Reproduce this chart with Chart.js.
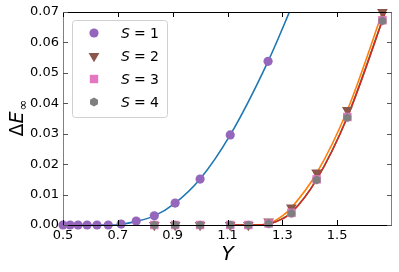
<!DOCTYPE html>
<html>
<head>
<meta charset="utf-8">
<script src="https://cdn.jsdelivr.net/npm/chart.js@4/dist/chart.umd.min.js"></script>
<style>
html, body { margin: 0; padding: 0; background: #fff; }
</style>
</head>
<body>
<canvas id="myChart" width="399" height="272"></canvas>
<script>
// tick labels
var xTicks = [0.5, 0.7, 0.9, 1.1, 1.3, 1.5]
var yTicks = [0, 0.01, 0.02, 0.03, 0.04, 0.05, 0.06, 0.07]

// S = 1 points
var s1X = [0.5, 0.526, 0.555, 0.588, 0.624, 0.665, 0.712, 0.767, 0.833, 0.909, 1.0, 1.11, 1.248]
var s1Y = [0, 0, 0, 0, 0, 0, 0.0003, 0.0013, 0.003, 0.0072, 0.0151, 0.0296, 0.0538]

// S = 2..4 points share the same x values
var sX = [0.833, 0.909, 1.0, 1.11, 1.176, 1.25, 1.333, 1.425, 1.537, 1.665]
var s2Y = [0, 0, 0, 0, 0, 0.0011, 0.0057, 0.0172, 0.0378, 0.0700]
var s3Y = [0, 0, 0, 0, 0, 0.0005, 0.0040, 0.0150, 0.0355, 0.0673]
var s4Y = [0, 0, 0, 0, 0, 0.0004, 0.0038, 0.0148, 0.0353, 0.0671]

// fitted curves
var fit1X = [0.5, 0.65, 0.7, 0.767, 0.833, 0.909, 1.0, 1.11, 1.248, 1.34]
var fit1Y = [0, 0, 0.0001, 0.0012, 0.003, 0.0072, 0.0151, 0.0296, 0.0538, 0.073]
var fit2X = [1.1, 1.2, 1.25, 1.3, 1.333, 1.425, 1.537, 1.68]
var fit2Y = [0, 0, 0.0005, 0.003, 0.0057, 0.0170, 0.0377, 0.0738]
var fit3X = [1.1, 1.2, 1.25, 1.3, 1.333, 1.425, 1.537, 1.68]
var fit3Y = [0, 0, 0.0003, 0.0021, 0.0041, 0.0150, 0.0355, 0.0712]
var fit4X = [1.1, 1.2, 1.25, 1.3, 1.333, 1.425, 1.537, 1.68]
var fit4Y = [0, 0, 0.0003, 0.002, 0.0040, 0.0149, 0.0354, 0.0710]

var legendLabels = ["1", "2", "3", "4"]

function pts(xs, ys) {
    var out = []
    for (var i = 0; i < xs.length; i++) out.push({x: xs[i], y: ys[i]})
    return out
}

function hexagon(r, color) {
    var c = document.createElement("canvas")
    var s = Math.ceil(r * 2) + 2
    c.width = s
    c.height = s
    var g = c.getContext("2d")
    g.beginPath()
    for (var i = 0; i < 6; i++) {
        var a = Math.PI / 2 + i * Math.PI / 3
        var px = s / 2 + r * Math.cos(a)
        var py = s / 2 + r * Math.sin(a)
        if (i == 0) g.moveTo(px, py); else g.lineTo(px, py)
    }
    g.closePath()
    g.fillStyle = color
    g.fill()
    return c
}

var hexImg = hexagon(4.6, "#7f7f7f")

var markerStyles = [
    {style: "circle", color: "#9467bd", radius: 4.6, rotation: 0},
    {style: "triangle", color: "#8c564b", radius: 6.2, rotation: 180},
    {style: "rect", color: "#e377c2", radius: 6, rotation: 0},
    {style: hexImg, color: "#7f7f7f", radius: 4.6, rotation: 0}
]

function markerSet(data, m, order) {
    return {
        type: "scatter",
        data: data,
        pointStyle: m.style,
        pointRadius: m.radius,
        pointRotation: m.rotation,
        backgroundColor: m.color,
        borderColor: m.color,
        borderWidth: 0,
        pointHoverRadius: m.radius,
        clip: false,
        order: order
    }
}

function fitSet(data, color, order) {
    return {
        type: "line",
        data: data,
        borderColor: color,
        borderWidth: 1.6,
        pointRadius: 0,
        fill: false,
        cubicInterpolationMode: "monotone",
        order: order
    }
}

var frame = {
    id: "frame",
    afterDraw: function (chart) {
        var ctx = chart.ctx
        var a = chart.chartArea
        var xs = chart.scales.x
        var ys = chart.scales.y
        ctx.save()
        ctx.lineWidth = 1
        // spines
        ctx.strokeStyle = "#000"
        ctx.beginPath()
        ctx.moveTo(a.left, a.top + 0.5); ctx.lineTo(a.right, a.top + 0.5)
        ctx.moveTo(a.left, a.bottom + 0.5); ctx.lineTo(a.right, a.bottom + 0.5)
        ctx.stroke()
        ctx.strokeStyle = "#808080"
        ctx.beginPath()
        ctx.moveTo(a.left + 0.5, a.top); ctx.lineTo(a.left + 0.5, a.bottom)
        ctx.moveTo(a.right - 0.5, a.top); ctx.lineTo(a.right - 0.5, a.bottom)
        ctx.stroke()
        // inward ticks
        ctx.strokeStyle = "#000"
        ctx.beginPath()
        xTicks.forEach(function (v) {
            var px = Math.round(xs.getPixelForValue(v)) + 0.5
            ctx.moveTo(px, a.bottom); ctx.lineTo(px, a.bottom - 5)
            ctx.moveTo(px, a.top); ctx.lineTo(px, a.top + 5)
        })
        ctx.stroke()
        ctx.strokeStyle = "#555"
        ctx.beginPath()
        yTicks.forEach(function (v) {
            var py = Math.round(ys.getPixelForValue(v)) + 0.5
            ctx.moveTo(a.left, py); ctx.lineTo(a.left + 5, py)
            ctx.moveTo(a.right, py); ctx.lineTo(a.right - 5, py)
        })
        ctx.stroke()

        // axis titles
        ctx.fillStyle = "#000"
        ctx.textBaseline = "alphabetic"
        ctx.font = "italic 20px 'DejaVu Sans'"
        var yw = ctx.measureText("Y").width
        ctx.fillText("Y", (a.left + a.right) / 2 - yw / 2, 260)

        ctx.save()
        ctx.translate(23, (a.top + a.bottom) / 2)
        ctx.rotate(-Math.PI / 2)
        ctx.font = "19px 'DejaVu Sans'"
        var w1 = ctx.measureText("\u0394").width
        ctx.font = "italic 19px 'DejaVu Sans'"
        var w2 = ctx.measureText("E").width
        ctx.font = "13px 'DejaVu Sans'"
        var w3 = ctx.measureText("\u221e").width
        var x0 = -(w1 + w2 + w3) / 2
        ctx.font = "19px 'DejaVu Sans'"
        ctx.fillText("\u0394", x0, 0)
        ctx.font = "italic 19px 'DejaVu Sans'"
        ctx.fillText("E", x0 + w1, 0)
        ctx.font = "13px 'DejaVu Sans'"
        ctx.fillText("\u221e", x0 + w1 + w2 + 1, 4)
        ctx.restore()

        // legend
        var lx = 72, ly = 20, lw = 95, lh = 97
        ctx.beginPath()
        ctx.roundRect(lx + 0.5, ly + 0.5, lw, lh, 3)
        ctx.fillStyle = "rgba(255,255,255,0.8)"
        ctx.fill()
        ctx.strokeStyle = "#d0d0d0"
        ctx.stroke()
        for (var i = 0; i < 4; i++) {
            var cy = 33 + i * 23
            var m = markerStyles[i]
            ctx.fillStyle = m.color
            ctx.beginPath()
            if (m.style == "circle") { ctx.arc(94, cy, m.radius, 0, Math.PI * 2); ctx.fill() }
            else if (m.style == "triangle") {
                ctx.moveTo(94 - 5.4, cy - 3.1); ctx.lineTo(94 + 5.4, cy - 3.1); ctx.lineTo(94, cy + 6.2); ctx.closePath(); ctx.fill()
            } else if (m.style == "rect") { ctx.fillRect(94 - 4.2, cy - 4.2, 8.4, 8.4) }
            else { ctx.drawImage(hexImg, 94 - hexImg.width / 2, cy - hexImg.height / 2) }
            ctx.fillStyle = "#000"
            ctx.font = "italic 14px 'DejaVu Sans'"
            ctx.fillText("S", 121, cy + 5)
            var sw = ctx.measureText("S").width
            ctx.font = "14px 'DejaVu Sans'"
            ctx.fillText("= " + legendLabels[i], 121 + sw + 4, cy + 5)
        }
        ctx.restore()
    }
}

new Chart("myChart", {
    type: "scatter",
    data: {
        datasets: [
            markerSet(pts(sX, s4Y), markerStyles[3], 0),
            markerSet(pts(sX, s3Y), markerStyles[2], 1),
            markerSet(pts(sX, s2Y), markerStyles[1], 2),
            markerSet(pts(s1X, s1Y), markerStyles[0], 3),
            fitSet(pts(fit4X, fit4Y), "#d62728", 4),
            fitSet(pts(fit3X, fit3Y), "#2ca02c", 5),
            fitSet(pts(fit2X, fit2Y), "#ff7f0e", 6),
            fitSet(pts(fit1X, fit1Y), "#1f77b4", 7)
        ]
    },
    options: {
        responsive: false,
        devicePixelRatio: 1,
        animation: false,
        layout: {padding: {left: 0, right: 7, top: 12, bottom: 0}},
        plugins: {legend: {display: false}, tooltip: {enabled: false}},
        scales: {
            x: {
                type: "linear",
                min: 0.5,
                max: 1.7,
                grid: {display: false, drawTicks: false},
                border: {display: false},
                afterBuildTicks: function (s) { s.ticks = xTicks.map(function (v) { return {value: v} }) },
                afterFit: function (s) { s.height = 47 },
                ticks: {
                    color: "#000",
                    padding: 3,
                    maxRotation: 0,
                    autoSkip: false,
                    font: {family: "'DejaVu Sans'", size: 13},
                    callback: function (v) { return v.toFixed(1) }
                }
            },
            y: {
                type: "linear",
                min: 0,
                max: 0.07,
                grid: {display: false, drawTicks: false},
                border: {display: false},
                afterBuildTicks: function (s) { s.ticks = yTicks.map(function (v) { return {value: v} }) },
                afterFit: function (s) { s.width = 63 },
                ticks: {
                    color: "#000",
                    padding: 4,
                    autoSkip: false,
                    font: {family: "'DejaVu Sans'", size: 13},
                    callback: function (v) { return v.toFixed(2) }
                }
            }
        }
    },
    plugins: [frame]
});
</script>
</body>
</html>
